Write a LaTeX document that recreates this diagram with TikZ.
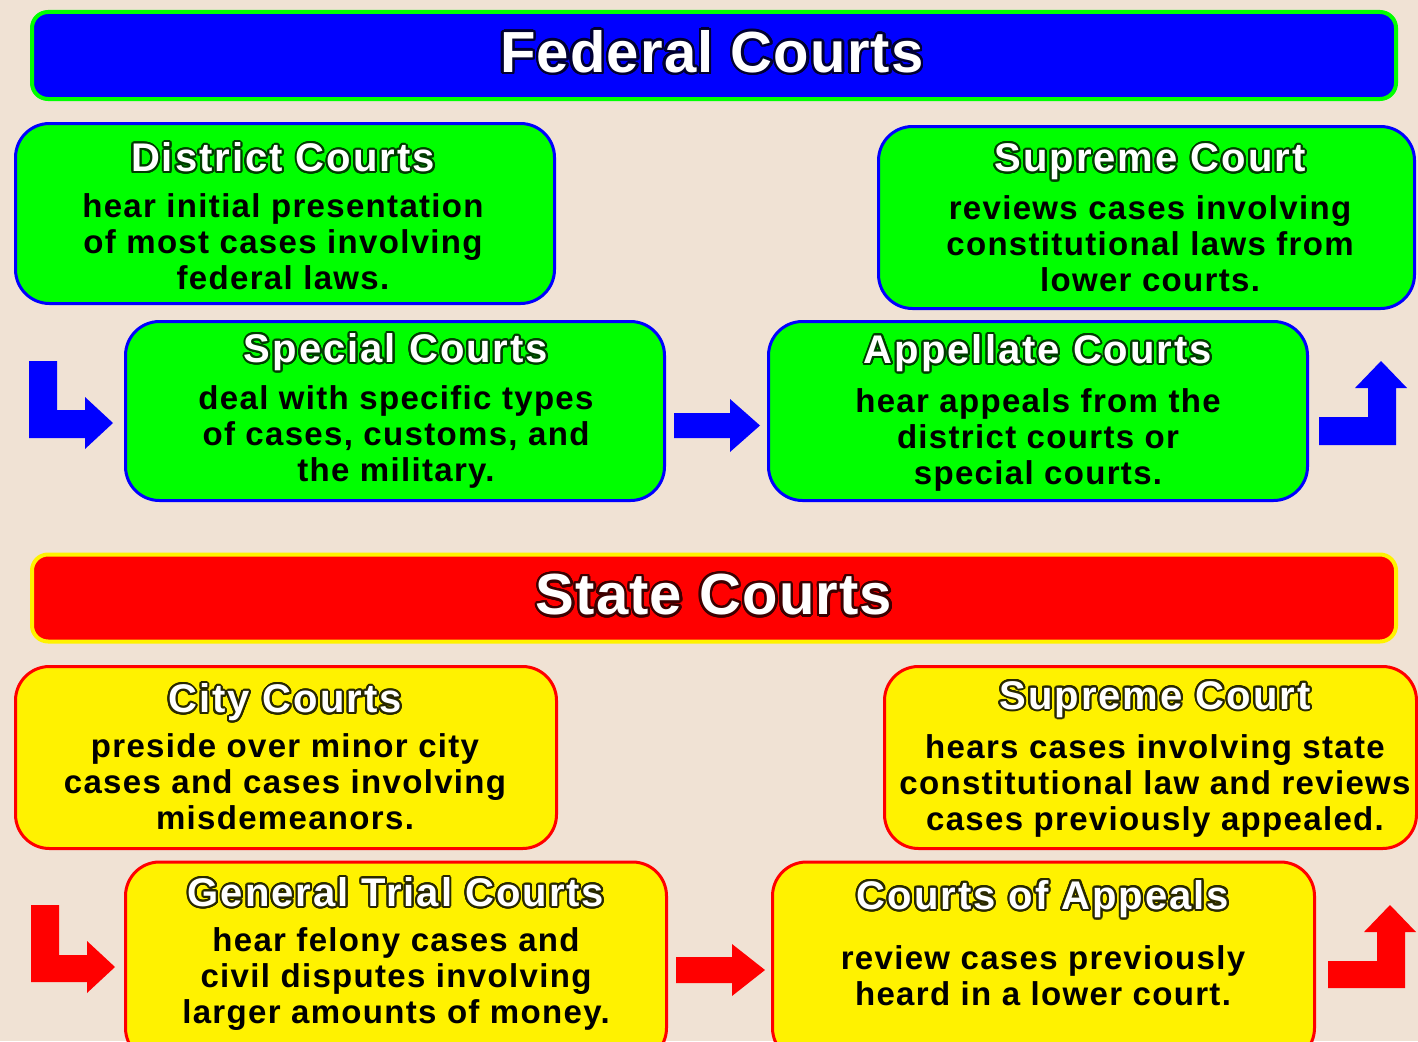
\documentclass[tikz,border=0pt]{standalone}
\usepackage{fontspec}
\setmainfont{Liberation Sans}
\newfontfamily\bodyfam[LetterSpace=4.0]{Liberation Sans}
\newfontfamily\titlefam[LetterSpace=5.0]{Liberation Sans}
\newfontfamily\bannerfam[LetterSpace=2.0]{Liberation Sans}
\usepackage{contour}
\contournumber{24}
\definecolor{bgc}{RGB}{240,226,212}
\definecolor{dkgreen}{RGB}{0,60,0}
\definecolor{dkyel}{RGB}{40,40,0}
\definecolor{dkblue}{RGB}{0,0,50}
\definecolor{dkred}{RGB}{60,0,0}
\newcommand\bodyf{\bodyfam\fontsize{33}{36}\selectfont\bfseries}
\newcommand\titlef{\titlefam\fontsize{40}{44}\selectfont\bfseries}
\newcommand\bannerf{\bannerfam\fontsize{58}{62}\selectfont\bfseries}
\newcommand\gttl[1]{{\titlef\contourlength{2pt}\color{white}\contour{dkgreen}{#1}}}
\newcommand\yttl[1]{{\titlef\contourlength{2pt}\color{white}\contour{dkyel}{#1}}}
\begin{document}
\begin{tikzpicture}[x=1pt,y=-1pt,
  banner/.style={line width=4pt, rounded corners=16pt, minimum width=1364pt, minimum height=87pt, inner sep=0pt},
  fedban/.style={banner, draw=green, fill=blue},
  stban/.style={banner, draw=yellow, fill=red},
  cbox/.style={line width=3pt, rounded corners=34pt, inner sep=0pt},
  fedbox/.style={cbox, draw=blue, fill=green},
  stbox/.style={cbox, draw=red, fill=yellow},
  btext/.style={align=center, inner sep=0pt, font=\bodyf},
  fedarrow/.style={fill=blue},
  starrow/.style={fill=red}]
\useasboundingbox (0,0) rectangle (1418,1041);
\clip (0,0) rectangle (1418,1041);
\fill[bgc] (0,0) rectangle (1418,1041);

% Federal
\node[fedban] (fedbanner) at (714,55.5) {};
\node[inner sep=0pt, font=\bannerf] (fedtitle) at (712,53) {\contourlength{2.5pt}\color{white}\contour{dkblue}{Federal Courts}};

\node[fedbox, minimum width=539pt, minimum height=180pt] (district) at (285,213.5) {};
\node[btext] (districttext) at (283,216.5) {\gttl{District Courts}\\[10pt]hear initial presentation\\of most cases involving\\federal laws.};

\node[fedbox, minimum width=536pt, minimum height=182pt] (fedsupreme) at (1146.5,217.5) {};
\node[btext] (fedsupremetext) at (1150,218) {\gttl{Supreme Court}\\[12pt]reviews cases involving\\constitutional laws from\\lower courts.};

\node[fedbox, minimum width=539pt, minimum height=179pt] (special) at (395,411) {};
\node[btext] (specialtext) at (396,411) {\gttl{Special Courts}\\[11pt]deal with specific types\\of cases, customs, and\\the military.};

\node[fedbox, minimum width=539pt, minimum height=179pt] (appellate) at (1038,411) {};
\node[btext] (appellatetext) at (1038,413) {\gttl{Appellate Courts}\\[13pt]hear appeals from the\\district courts or\\special courts.};

% Federal arrows
\fill[fedarrow] (29,361) -- (57,361) -- (57,410) -- (85,410) -- (85,397) -- (113,423) -- (85,449) -- (85,438) -- (29,438) -- cycle;
\fill[fedarrow] (674,413) -- (730,413) -- (730,399) -- (760,425.5) -- (730,452) -- (730,438) -- (674,438) -- cycle;
\fill[fedarrow] (1319,417) -- (1368,417) -- (1368,388) -- (1355,388) -- (1381,361) -- (1407,388) -- (1396,388) -- (1396,445) -- (1319,445) -- cycle;

% State
\node[stban] (stbanner) at (714,598) {};
\node[inner sep=0pt, font=\bannerf] (sttitle) at (714,596) {\contourlength{2.5pt}\color{white}\contour{dkred}{State Courts}};

\node[stbox, minimum width=541pt, minimum height=182pt] (city) at (286,757.5) {};
\node[btext] (citytext) at (285,757) {\yttl{City Courts}\\[9pt]preside over minor city\\cases and cases involving\\misdemeanors.};

\node[stbox, minimum width=532pt, minimum height=182pt] (stsupreme) at (1150.5,757.5) {};
\node[btext] (stsupremetext) at (1155,759) {\yttl{Supreme Court}\\[13pt]hears cases involving state\\constitutional law and reviews\\cases previously appealed.};

\node[stbox, minimum width=541pt, minimum height=200pt] (general) at (396,962) {};
\node[btext] (generaltext) at (396,954) {\yttl{General Trial Courts}\\[9pt]hear felony cases and\\civil disputes involving\\larger amounts of money.};

\node[stbox, minimum width=542pt, minimum height=200pt] (appeals) at (1043.5,962) {};
\node[btext] (appealstext) at (1043,943) {\yttl{Courts of Appeals}\\[24pt]review cases previously\\heard in a lower court.};

% State arrows
\fill[starrow] (31,905) -- (59,905) -- (59,955) -- (87,955) -- (87,941) -- (115,967) -- (87,993) -- (87,982) -- (31,982) -- cycle;
\fill[starrow] (676,957) -- (732,957) -- (732,944) -- (765,970) -- (732,996) -- (732,983) -- (676,983) -- cycle;
\fill[starrow] (1328,961) -- (1377,961) -- (1377,932) -- (1364,932) -- (1390,905) -- (1416,932) -- (1405,932) -- (1405,988) -- (1328,988) -- cycle;
\end{tikzpicture}
\end{document}
